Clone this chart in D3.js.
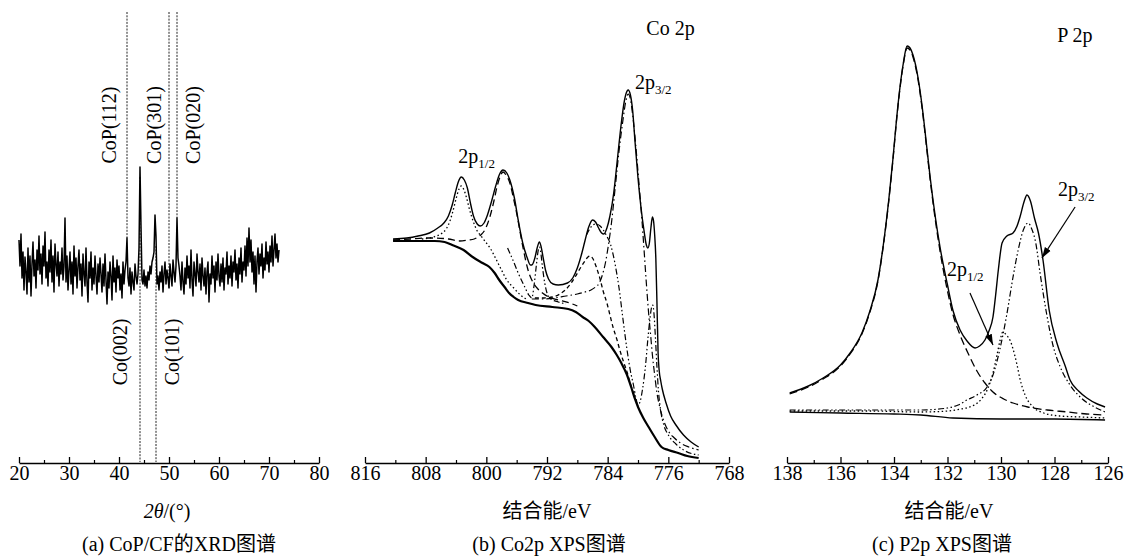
<!DOCTYPE html>
<html><head><meta charset="utf-8">
<script src="https://cdn.jsdelivr.net/npm/d3@7"></script>
<style>
body{margin:0;background:#fff;}
svg text{font-family:"Liberation Serif","Times New Roman","Noto Sans CJK SC",serif;fill:#000;}
</style></head><body>
<svg id="chart" width="1125" height="557"></svg>
<script>
// ---------------- DATA ----------------
// (a) XRD pattern, 2θ from 20 to 72 step 0.2
const xrdStart = 20, xrdStep = 0.2;
const xrdIntensity = [
222,196,228,184,210,172,205,190,168,214,
180,206,166,198,220,186,202,174,212,192,
226,188,208,178,216,196,230,184,200,176,
212,190,222,180,206,170,218,198,186,210,
176,200,188,214,182,196,244,180,206,172,
192,210,178,200,168,216,186,204,174,196,
212,182,198,166,208,188,176,214,180,160,
200,184,210,172,194,178,206,186,168,198,
180,204,188,170,198,176,208,182,158,190,
174,200,186,162,206,180,194,170,202,184,
196,172,188,164,200,178,192,200,224,184,
176,194,168,190,180,172,198,186,178,188,
214,295,236,182,178,192,176,186,174,190,
182,196,188,200,204,210,247,226,178,186,
172,190,180,196,170,188,200,178,192,184,
174,198,186,176,202,190,180,196,244,204,
196,186,172,200,180,168,194,178,206,184,
196,174,212,182,166,200,188,176,208,190,
180,198,172,204,186,176,194,168,190,200,
160,188,178,206,184,196,170,200,182,208,
186,176,198,180,204,172,194,188,210,178,
196,184,206,176,200,190,212,182,198,174,
204,188,214,180,200,192,216,186,224,196,
234,200,222,190,210,178,206,170,200,214,
188,208,196,218,184,204,192,220,198,210,
190,216,200,226,196,212,228,204,218,200,212];
const xrdRefUpper = [["CoP(112)",41.6],["CoP(301)",50.0],["CoP(020)",51.6]];
const xrdRefLower = [["Co(002)",44.2],["Co(101)",47.4]];
const xrdMajorTicks = [20,30,40,50,60,70,80];
const xrdMinorTicks = [25,35,45,55,65,75];

// (b) Co 2p XPS: [binding energy eV, intensity a.u.]
const coEnvelope = [[812.3,224],[810.5,225],[809,227],[807.5,230],[806.4,235],[805.6,240],[805,247],[804.5,258],[804.1,270],[803.7,281],[803.3,286],[802.9,283],[802.5,275],[802.1,260],[801.7,247],[801.2,239],[800.8,237],[800.3,240],[799.9,247],[799.3,262],[798.8,276],[798.3,288],[797.8,293],[797.3,290],[796.9,283],[796.3,265],[795.8,243],[795.2,220],[794.6,205],[794.2,198],[794.0,198],[793.6,205],[793.3,215],[793.0,221],[792.8,217],[792.5,205],[792.2,193],[791.8,184],[791.2,179],[790.5,178],[789.3,180],[788.6,185],[788.0,195],[787.4,210],[787.0,222],[786.5,236],[786.0,243],[785.6,241],[785.2,235],[784.8,230],[784.5,229],[784.1,235],[783.7,247],[783.2,270],[782.7,305],[782.2,340],[781.8,362],[781.5,371],[781.3,373],[781.0,368],[780.7,352],[780.4,322],[780.0,285],[779.6,255],[779.2,232],[778.9,218],[778.7,215],[778.5,220],[778.3,235],[778.1,246],[777.95,242],[777.8,228],[777.65,205],[777.5,160],[777.35,110],[777.2,92],[777.0,82],[776.8,74],[776.3,60],[775.7,47],[775.0,38],[774.0,28],[773.0,21],[772.0,16]];
const coBackground = [[812.3,222],[810,222],[808,222],[806.8,222],[805.5,221],[804.5,218],[803,213],[801.8,206],[800.5,200],[799.6,196],[798.9,190],[798.3,183],[797.6,176],[797.0,170],[796.4,166],[795.8,163],[794.5,160],[793.5,158],[791.3,156],[789.2,154],[788.2,151],[787.3,146],[786.5,142],[785.7,136],[784.6,126],[783.5,116],[782.8,108],[782.2,100],[781.5,89],[780.9,76],[780.4,64],[780.0,56],[779.3,45],[778.6,36],[777.8,26],[776.9,16],[776,13],[774.7,10],[773.5,7],[772.0,5]];
const coPeak803 = [[808.5,224],[807,226],[806,229],[805.3,234],[804.8,242],[804.4,252],[804.0,264],[803.6,274],[803.3,277],[803.0,274],[802.6,265],[802.2,253],[801.7,241],[801.2,232],[800.8,228],[800.2,222],[799.5,215],[798.8,205],[798.0,193],[797.3,183],[796.5,176],[795.5,168],[794.5,163]];
const coPeak798 = [[812.3,223],[810,224],[808,225],[806.8,225],[805,224],[803.5,222],[802.4,223],[801.6,224],[801.1,226],[800.6,229],[800.2,233],[799.8,240],[799.5,247],[799.0,262],[798.6,276],[798.2,286],[797.8,291],[797.4,288],[796.9,280],[796.4,264],[795.9,246],[795.5,229],[795.1,213],[794.5,193],[793.8,180],[793.2,174],[792.6,170],[791.5,165],[790.5,163],[789,160],[788,157]];
const coPeak793 = [[797.2,215],[796.5,203],[795.8,190],[795.0,177],[794.4,168],[794.0,165],[793.7,178],[793.4,198],[793.15,213],[793.0,216],[792.85,212],[792.6,196],[792.3,180],[792.0,170],[791.5,164],[790.5,161],[789.5,159]];
const coPeak786 = [[793.6,165],[792.5,165],[791.3,166],[790.3,169],[789.6,173],[788.9,179],[788.3,186],[787.6,195],[787.0,202],[786.6,206],[786.3,207],[786.0,205],[785.5,196],[785.0,184],[784.6,172],[784.1,160],[783.7,148],[783.3,136],[782.8,124],[782.4,113],[781.9,101],[781.4,90],[781.0,79],[780.6,70],[780.2,61],[780.0,57]];
const coPeak781 = [[794.0,164],[792.5,164],[791,165],[789.5,167],[788,169],[787,171],[786.2,173],[785.6,176],[785.1,180],[784.7,188],[784.3,200],[783.9,218],[783.5,240],[783.0,276],[782.5,312],[782.0,342],[781.6,362],[781.3,369],[781.0,364],[780.7,348],[780.3,318],[779.9,282],[779.5,245],[779.2,213],[778.9,180],[778.6,150],[778.3,125],[778.1,108],[777.8,88],[777.5,70],[777.1,55],[776.6,42],[776.0,32],[775.2,25],[774.4,20],[773.3,16],[772.0,13]];
const coPeak778 = [[786.8,228],[786.2,236],[785.6,239],[785.0,237],[784.2,228],[783.6,218],[783.0,198],[782.5,175],[782.0,145],[781.5,116],[781.0,92],[780.6,78],[780.3,66],[780.0,58],[779.7,62],[779.4,74],[779.0,98],[778.7,124],[778.4,146],[778.2,156],[778.05,158],[777.9,150],[777.7,125],[777.5,96],[777.3,72],[777.0,52],[776.6,38],[776.0,28],[775,19],[774,13],[772.0,8]];
const coMajorTicks = [816,808,800,792,784,776,768];
const coMinorTicks = [812,804,796,788,780,772];

// (c) P 2p XPS
const pEnvelope = [[137.9,70],[137.2,77],[136.65,85],[136.0,98],[135.64,110],[135.2,130],[134.9,152],[134.6,183],[134.41,216],[134.2,262],[134.04,304],[133.9,345],[133.78,375],[133.65,400],[133.51,417],[133.4,415],[133.29,408],[133.1,385],[132.95,357],[132.8,322],[132.65,286],[132.45,245],[132.28,216],[132.0,178],[131.79,152],[131.53,133],[131.27,122],[130.97,115],[130.8,117],[130.6,123],[130.45,132],[130.3,146],[130.2,168],[130.1,193],[129.96,220],[129.78,227],[129.55,230],[129.4,237],[129.29,246],[129.13,262],[129.03,268],[128.9,262],[128.75,245],[128.6,230],[128.43,203],[128.2,153],[127.91,120],[127.6,97],[127.42,83],[127.1,72],[126.79,65],[126.4,59],[126.11,56]];
const pPeak1335 = [[137.9,69],[137.2,76],[136.65,84],[136.0,97],[135.64,109],[135.2,129],[134.9,151],[134.6,182],[134.41,215],[134.2,261],[134.04,303],[133.9,344],[133.78,374],[133.65,399],[133.51,415],[133.4,413],[133.29,406],[133.1,383],[132.95,355],[132.8,320],[132.65,284],[132.45,242],[132.28,212],[132.0,172],[131.79,148],[131.53,128],[131.2,108],[130.9,92],[130.6,80],[130.3,71],[129.9,64],[129.55,60],[129.0,56],[128.28,53],[127.5,51],[126.8,49],[126.11,48]];
const pPeak2p12 = [[137.9,52],[135,52],[133,51],[132,52],[131.5,54],[131.0,58],[130.7,65],[130.5,74],[130.3,90],[130.15,108],[130.04,122],[129.93,131],[129.8,128],[129.65,122],[129.55,114],[129.4,98],[129.29,84],[129.1,68],[128.8,56],[128.4,50],[127.8,47],[127,46],[126.11,45]];
const pPeak2p32 = [[137.9,53],[135,53],[133,53],[132,55],[131.6,58],[131.27,63],[130.9,68],[130.52,76],[130.3,88],[130.04,114],[129.8,146],[129.55,186],[129.35,214],[129.15,234],[128.99,240],[128.85,234],[128.7,220],[128.54,190],[128.3,150],[128.06,118],[127.8,97],[127.42,78],[127.0,65],[126.5,56],[126.11,51]];
const pBackground = [[137.9,51],[136,50],[134,49],[133,48],[131.8,45],[130,44],[128,44],[126.11,43]];
const pMajorTicks = [138,136,134,132,130,128,126];
const pMinorTicks = [137,135,133,131,129,127];

// annotations in data coordinates
const coLabels = [["Co 2p","",778.9,428],["2p","3/2",780.4,374],["2p","1/2",803.7,300]];
const pLabels = [["P 2p","",127.9,421],["2p","3/2",127.87,267],["2p","1/2",132.02,187]];
const pArrows = [[[127.23,256],[128.47,205]],[[131.16,170],[130.30,118]]];

// ---------------- DRAW ----------------
const svg = d3.select("#chart");
const FONT = '"Liberation Serif","Times New Roman","Noto Sans CJK SC",serif';
const AXIS_Y = 463;

svg.append("defs").append("marker").attr("id","arrow")
  .attr("viewBox","0 0 10 10").attr("refX",10).attr("refY",5)
  .attr("markerWidth",9).attr("markerHeight",9).attr("orient","auto")
  .append("path").attr("d","M0,1.8 L10,5 L0,8.2 Z").attr("fill","#000");

function drawAxis(scale, major, minor){
  const g = svg.append("g").attr("transform",`translate(0,${AXIS_Y})`)
    .call(d3.axisBottom(scale).tickValues(major).tickSizeInner(-6).tickSizeOuter(0)
      .tickPadding(3).tickFormat(d3.format("d")));
  g.attr("font-family",FONT).attr("font-size",20);
  g.select(".domain").attr("stroke","#000").attr("stroke-width",1.3);
  g.selectAll(".tick line").attr("stroke","#000").attr("stroke-width",1.3);
  const m = svg.append("g").attr("transform",`translate(0,${AXIS_Y})`)
    .call(d3.axisBottom(scale).tickValues(minor).tickSizeInner(-3).tickSizeOuter(0).tickFormat(""));
  m.select(".domain").remove();
  m.selectAll(".tick line").attr("stroke","#000").attr("stroke-width",1.2);
}

function text(x,y,str,opts={}){
  return svg.append("text").attr("x",x).attr("y",y).attr("font-size",opts.size||20)
    .attr("text-anchor",opts.anchor||"start").text(str);
}

function subLabel(x,y,main,sub){
  const t = svg.append("text").attr("x",x).attr("y",y).attr("font-size",20);
  t.append("tspan").text(main);
  if(sub) t.append("tspan").attr("font-size",13).attr("dy",5).text(sub);
}

// ---- Panel (a)
const xA = d3.scaleLinear().domain([20,80]).range([19,319]);
const yA = d3.scaleLinear().domain([0,450]).range([462,12]);
const xrdData = xrdIntensity.map((v,i)=>[xrdStart + xrdStep*i, v]);
const valAt = a => xrdIntensity[Math.round((a - xrdStart)/xrdStep)];

xrdRefUpper.forEach(([lab,pos])=>{
  svg.append("line").attr("x1",xA(pos)).attr("x2",xA(pos)).attr("y1",yA(450)).attr("y2",yA(valAt(pos)))
    .attr("stroke","#222").attr("stroke-width",1).attr("stroke-dasharray","2,1.3");
});
xrdRefLower.forEach(([lab,pos])=>{
  svg.append("line").attr("x1",xA(pos)).attr("x2",xA(pos)).attr("y1",yA(valAt(pos)-10)).attr("y2",yA(0))
    .attr("stroke","#222").attr("stroke-width",1).attr("stroke-dasharray","2,1.3");
});
svg.append("path").datum(xrdData)
  .attr("d",d3.line().x(d=>xA(d[0])).y(d=>yA(d[1])))
  .attr("fill","none").attr("stroke","#000").attr("stroke-width",1.5).attr("stroke-linejoin","round");

const upperOffsets = [-18,-15,16];
xrdRefUpper.forEach(([lab,pos],i)=>{
  svg.append("text").attr("transform",`translate(${xA(pos)+upperOffsets[i]},${yA(337)}) rotate(-90)`)
    .attr("text-anchor","middle").attr("dominant-baseline","central").attr("font-size",20).text(lab);
});
const lowerOffsets = [-20,16];
xrdRefLower.forEach(([lab,pos],i)=>{
  svg.append("text").attr("transform",`translate(${xA(pos)+lowerOffsets[i]},${yA(110)}) rotate(-90)`)
    .attr("text-anchor","middle").attr("dominant-baseline","central").attr("font-size",20).text(lab);
});
drawAxis(xA, xrdMajorTicks, xrdMinorTicks);
{
  const t = svg.append("text").attr("x",167).attr("y",518).attr("text-anchor","middle").attr("font-size",20);
  t.append("tspan").attr("font-style","italic").text("2θ");
  t.append("tspan").text("/(°)");
}
text(179,551,"(a) CoP/CF的XRD图谱",{anchor:"middle"});

// ---- Panel (b)
const xB = d3.scaleLinear().domain([816,768]).range([365,729]);
const yB = d3.scaleLinear().domain([0,400]).range([AXIS_Y,63]);
const lineB = d3.line().x(d=>xB(d[0])).y(d=>yB(d[1])).curve(d3.curveMonotoneX);
const bSeries = [
  [coBackground,"none",2.2],
  [coPeak803,"1.5,2.5",1.3],
  [coPeak798,"7,4",1.3],
  [coPeak793,"6,2.5,1.5,2.5,1.5,2.5",1.2],
  [coPeak786,"4,3",1.3],
  [coPeak781,"7,3,1.5,3",1.2],
  [coPeak778,"6,2.5,1.5,2.5,1.5,2.5",1.2],
  [coEnvelope,"none",1.4]
];
bSeries.forEach(([d,dash,w])=>{
  svg.append("path").datum(d).attr("d",lineB).attr("fill","none").attr("stroke","#000")
    .attr("stroke-width",w).attr("stroke-dasharray",dash==="none"?null:dash);
});
coLabels.forEach(([m,s,e,v])=>subLabel(xB(e),yB(v),m,s));
drawAxis(xB, coMajorTicks, coMinorTicks);
text(547,518,"结合能/eV",{anchor:"middle"});
text(549,551,"(b) Co2p XPS图谱",{anchor:"middle"});

// ---- Panel (c)
const xC = d3.scaleLinear().domain([138,126]).range([787,1108]);
const yC = d3.scaleLinear().domain([0,400]).range([AXIS_Y,63]);
const lineC = d3.line().x(d=>xC(d[0])).y(d=>yC(d[1])).curve(d3.curveMonotoneX);
const cSeries = [
  [pBackground,"none",1.3],
  [pPeak2p12,"1.5,2.5",1.3],
  [pPeak2p32,"6,2.5,1.5,2.5,1.5,2.5",1.2],
  [pPeak1335,"8,4",1.3],
  [pEnvelope,"none",1.4]
];
cSeries.forEach(([d,dash,w])=>{
  svg.append("path").datum(d).attr("d",lineC).attr("fill","none").attr("stroke","#000")
    .attr("stroke-width",w).attr("stroke-dasharray",dash==="none"?null:dash);
});
pLabels.forEach(([m,s,e,v])=>subLabel(xC(e),yC(v),m,s));
pArrows.forEach(([a,b])=>{
  svg.append("line").attr("x1",xC(a[0])).attr("y1",yC(a[1])).attr("x2",xC(b[0])).attr("y2",yC(b[1]))
    .attr("stroke","#000").attr("stroke-width",1.2).attr("marker-end","url(#arrow)");
});
drawAxis(xC, pMajorTicks, pMinorTicks);
text(949,518,"结合能/eV",{anchor:"middle"});
text(942,551,"(c) P2p XPS图谱",{anchor:"middle"});
</script>
</body></html>
